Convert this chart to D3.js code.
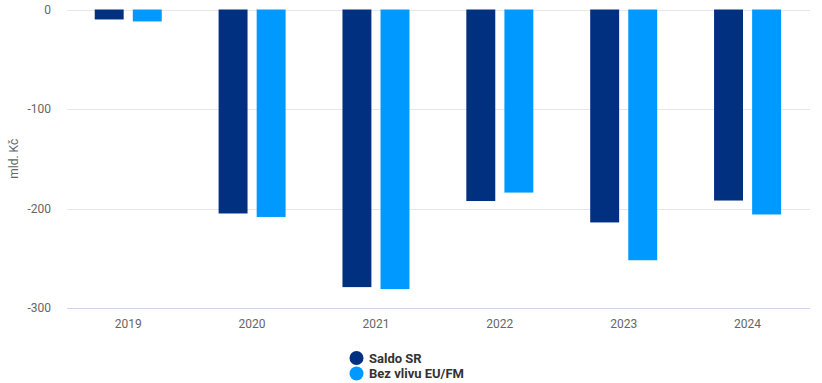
<!DOCTYPE html>
<html>
<head>
<meta charset="utf-8">
<script src="https://cdn.jsdelivr.net/npm/d3@7"></script>
<style>
  body { margin: 0; background: #fff; }
  svg { font-family: Roboto, "Noto Sans", sans-serif; }
</style>
</head>
<body>
<svg id="chart" width="822" height="383"></svg>
<script>
// hodnoty (mld. Kč)
const years = ['2019', '2020', '2021', '2022', '2023', '2024'];
const saldoSR = [-10, -205, -279, -192.5, -214, -192];
const bezVlivu = [-12, -208.5, -281, -184, -252, -206];
const yTicks = [0, -100, -200, -300];
const seriesNames = ['Saldo SR', 'Bez vlivu EU/FM'];
const colors = ['#00307f', '#0099ff'];

const svg = d3.select('#chart');
const plot = { left: 66.3, right: 809.5, top: 9.5, bottom: 308 };

const x = d3.scaleBand().domain(years).range([plot.left, plot.right]);
const xInner = d3.scaleBand().domain([0, 1]).range([-33.5, 33.5]).paddingInner(0.24);
const y = d3.scaleLinear().domain([-300, 0]).range([plot.bottom, plot.top]);

// mřížka
svg.append('g').selectAll('line')
  .data(yTicks.filter(d => d !== -300))
  .join('line')
  .attr('x1', 67).attr('x2', 810)
  .attr('y1', d => Math.round(y(d)) + 0.5).attr('y2', d => Math.round(y(d)) + 0.5)
  .attr('stroke', '#e6e6e6');

svg.append('line')
  .attr('x1', 67).attr('x2', 810)
  .attr('y1', Math.round(y(-300)) + 0.5).attr('y2', Math.round(y(-300)) + 0.5)
  .attr('stroke', '#ccd6eb');

// popisky osy y
svg.append('g').selectAll('text')
  .data(yTicks)
  .join('text')
  .attr('x', 51).attr('y', d => y(d) + 4)
  .attr('text-anchor', 'end')
  .attr('font-size', 12).attr('fill', '#666')
  .text(d => d);

svg.append('text')
  .attr('transform', 'translate(18,' + (y(-150)) + ') rotate(-90)')
  .attr('text-anchor', 'middle')
  .attr('font-size', 12).attr('fill', '#666')
  .text('mld. Kč');

// popisky osy x
svg.append('g').selectAll('text')
  .data(years)
  .join('text')
  .attr('x', d => x(d) + x.bandwidth() / 2).attr('y', 328)
  .attr('text-anchor', 'middle')
  .attr('font-size', 12).attr('fill', '#666')
  .text(d => d);

// sloupce
[saldoSR, bezVlivu].forEach((vals, s) => {
  svg.append('g').selectAll('rect')
    .data(vals)
    .join('rect')
    .attr('x', (d, i) => x(years[i]) + x.bandwidth() / 2 + xInner(s))
    .attr('width', xInner.bandwidth())
    .attr('y', y(0))
    .attr('height', d => y(d) - y(0))
    .attr('fill', colors[s]);
});

// legenda
const legend = svg.append('g');
seriesNames.forEach((name, i) => {
  const ly = 358 + i * 15.5;
  legend.append('circle').attr('cx', 356.5).attr('cy', ly).attr('r', 7).attr('fill', colors[i]);
  legend.append('text').attr('x', 369).attr('y', ly + 4.5)
    .attr('font-size', 13).attr('font-weight', 'bold').attr('fill', '#333')
    .text(name);
});
</script>
</body>
</html>
